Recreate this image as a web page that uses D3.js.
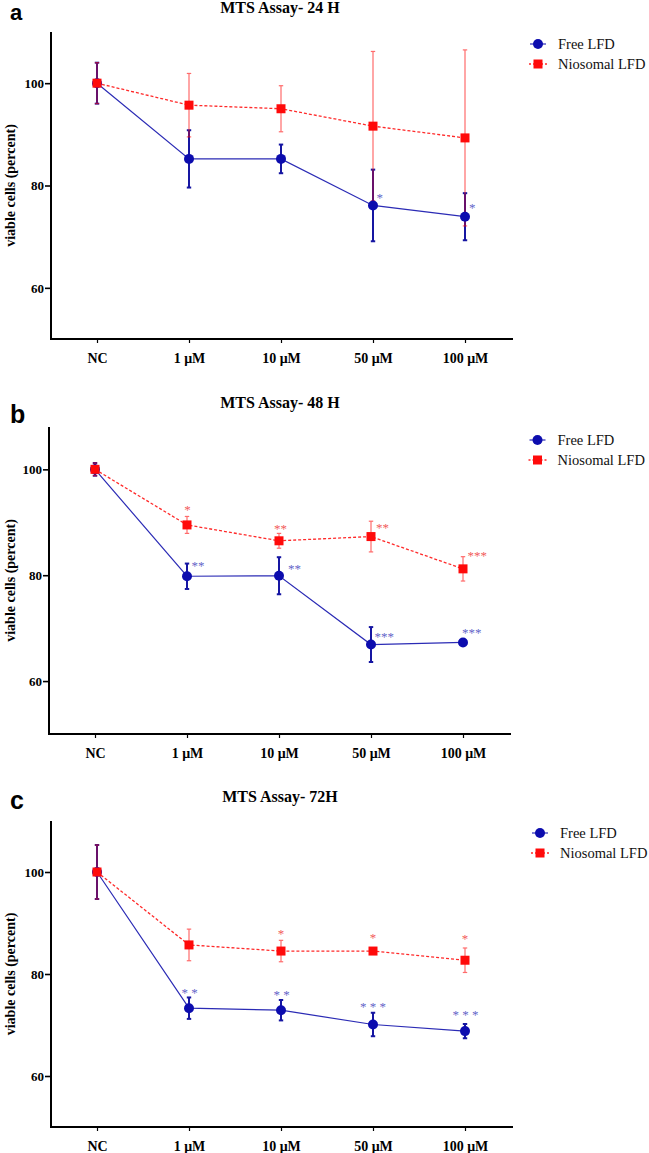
<!DOCTYPE html>
<html><head><meta charset="utf-8">
<script src="https://cdn.jsdelivr.net/npm/d3@7"></script>
<style>html,body{margin:0;padding:0;background:#fff}svg{display:block}</style>
</head><body>
<svg id="chart" width="649" height="1153"></svg>
<script>
// ---------- DATA ----------
const categories = ["NC", "1 μM", "10 μM", "50 μM", "100 μM"];
const yTicks = [60, 80, 100];
const seriesNames = ["Free LFD", "Niosomal LFD"];
const titles = ["MTS Assay- 24 H", "MTS Assay- 48 H", "MTS Assay- 72H"];
const panelLetters = ["a", "b", "c"];

const free24 = [100, 85.2, 85.2, 76.1, 73.9];
const free24Err = [4.0, 5.6, 2.8, 7.0, 4.6];
const nio24 = [100, 95.7, 95.0, 91.6, 89.3];
const nio24Err = [4.0, 6.2, 4.5, 14.6, 17.2];

const free48 = [100, 79.8, 79.9, 66.9, 67.3];
const free48Err = [1.2, 2.4, 3.5, 3.3, 0];
const nio48 = [100, 89.5, 86.5, 87.3, 81.2];
const nio48Err = [1.2, 1.6, 1.4, 2.9, 2.3];

const free72 = [100, 73.3, 72.9, 70.1, 68.8];
const free72Err = [5.3, 2.1, 2.0, 2.3, 1.4];
const nio72 = [100, 85.7, 84.5, 84.5, 82.7];
const nio72Err = [5.3, 3.1, 2.1, 0.5, 2.4];

const sigFree24 = ["", "", "", "*", "*"];
const sigNio24 = ["", "", "", "", ""];
const sigFree48 = ["", "**", "**", "***", "***"];
const sigNio48 = ["", "*", "**", "**", "***"];
const sigFree72 = ["", "* *", "* *", "* * *", "* * *"];
const sigNio72 = ["", "", "*", "*", "*"];

const yMaxes = [110, 108, 110];

// ---------- LAYOUT (positions / styles only) ----------
const layout = [
  {left: 51, top: 32, bottom: 339, titleY: 13, letterY: 20, legX: 538, legY: 44,
   // [anchor, dx, dy, ref]  ref: 'p' = point centre, 'e' = error-bar top; dy is asterisk centre offset
   sigF: [null, null, null, ["start", 3.5, -10, "p"], ["start", 4, -11.5, "p"]],
   sigN: [null, null, null, null, null]},
  {left: 49, top: 427, bottom: 734, titleY: 408, letterY: 423, legX: 537.5, legY: 440,
   sigF: [null, ["start", 4.5, 0, "e"], ["start", 9, 9, "e"], ["start", 3.5, 7, "e"], ["start", -1, -12, "p"]],
   sigN: [null, ["middle", 0.5, -9, "e"], ["middle", 1.5, -7, "e"], ["start", 5, 4, "e"], ["start", 4.5, -3, "e"]]},
  {left: 51, top: 821, bottom: 1127, titleY: 802, letterY: 809, legX: 540, legY: 833,
   sigF: [null, ["middle", 0.5, -7, "e"], ["middle", 0.5, -8, "e"], ["middle", 0, -8, "e"], ["middle", 0.5, -11, "e"]],
   sigN: [null, null, ["middle", 0, -9, "e"], ["middle", 0, -13, "e"], ["middle", 0, -11, "e"]]}
];

const panelData = [
  {free: free24, freeErr: free24Err, nio: nio24, nioErr: nio24Err, sF: sigFree24, sN: sigNio24},
  {free: free48, freeErr: free48Err, nio: nio48, nioErr: nio48Err, sF: sigFree48, sN: sigNio48},
  {free: free72, freeErr: free72Err, nio: nio72, nioErr: nio72Err, sF: sigFree72, sN: sigNio72}
];

const BLUE = "#0c0cae", BLUE_LINE = "#2b2bb5", BLUE_ERR = "#1616a2", BLUE_SIG = "#6464c8";
const RED = "#ff0a0a", RED_LINE = "#ff2a2a", RED_SIG = "#f25a5a";
const SERIF = "Liberation Serif, Tinos, Times New Roman, DejaVu Serif, serif";
const SANS = "Liberation Sans, Arimo, Arial, DejaVu Sans, sans-serif";

const svg = d3.select("#chart");

panelData.forEach((pd, i) => {
  const L = layout[i];
  const g = svg.append("g");
  const x = d3.scalePoint().domain(categories).range([L.left, L.left + 460]).padding(0.5);
  const y = d3.scaleLinear().domain([50, yMaxes[i]]).range([L.bottom, L.top]);

  // panel letter
  g.append("text").attr("x", 10).attr("y", L.letterY).text(panelLetters[i])
    .style("font-family", SANS).attr("font-weight", "bold").attr("font-size", i === 0 ? 22 : 25).attr("fill", "#000");
  // title
  g.append("text").attr("x", 280).attr("y", L.titleY).attr("text-anchor", "middle").text(titles[i])
    .style("font-family", SERIF).attr("font-weight", "bold").attr("font-size", 16).attr("fill", "#000");
  // y label
  const cy = (L.top + L.bottom) / 2;
  g.append("text").attr("transform", `translate(15,${cy}) rotate(-90)`).attr("text-anchor", "middle")
    .text("viable cells (percent)").style("font-family", SERIF).attr("font-weight", "bold")
    .attr("font-size", 14).attr("fill", "#000");

  // y axis
  const yAxis = d3.axisLeft(y).tickValues(yTicks).tickSize(6).tickPadding(1).tickFormat(d3.format("d"));
  const ya = g.append("g").attr("transform", `translate(${L.left},0)`).call(yAxis);
  ya.select(".domain").remove();
  ya.selectAll(".tick line").attr("stroke", "#000").attr("stroke-width", 1.6);
  ya.selectAll(".tick text").style("font-family", SERIF).attr("font-weight", "bold").attr("font-size", 13).attr("fill", "#000");
  g.append("line").attr("x1", L.left).attr("x2", L.left).attr("y1", L.top).attr("y2", L.bottom + 1)
    .attr("stroke", "#000").attr("stroke-width", 2);

  // x axis
  const xAxis = d3.axisBottom(x).tickSize(4).tickPadding(10);
  const xa = g.append("g").attr("transform", `translate(0,${L.bottom})`).call(xAxis);
  xa.select(".domain").remove();
  xa.selectAll(".tick line").attr("stroke", "#000").attr("stroke-width", 1.2);
  xa.selectAll(".tick text").style("font-family", SERIF).attr("font-weight", "bold").attr("font-size", 14).attr("fill", "#000");
  g.append("line").attr("x1", L.left - 1).attr("x2", L.left + 462).attr("y1", L.bottom).attr("y2", L.bottom)
    .attr("stroke", "#000").attr("stroke-width", 2);

  const fPts = categories.map((c, k) => ({c, v: pd.free[k], e: pd.freeErr[k], s: pd.sF[k], pos: L.sigF[k]}));
  const nPts = categories.map((c, k) => ({c, v: pd.nio[k], e: pd.nioErr[k], s: pd.sN[k], pos: L.sigN[k]}));

  const line = d3.line().x(d => x(d.c)).y(d => y(d.v));
  g.append("path").datum(fPts).attr("d", line).attr("fill", "none").attr("stroke", BLUE_LINE).attr("stroke-width", 1.2);
  g.append("path").datum(nPts).attr("d", line).attr("fill", "none").attr("stroke", RED_LINE).attr("stroke-width", 1.3)
    .attr("stroke-dasharray", "3,2");

  function errBars(pts, color, w, op) {
    const eg = g.append("g").attr("stroke", color).attr("stroke-width", w).attr("opacity", op);
    pts.filter(d => d.e > 0).forEach(d => {
      const cx = x(d.c), y1 = y(d.v + d.e), y2 = y(d.v - d.e);
      eg.append("line").attr("x1", cx).attr("x2", cx).attr("y1", y1).attr("y2", y2);
      eg.append("line").attr("x1", cx - 2.2).attr("x2", cx + 2.2).attr("y1", y1).attr("y2", y1);
      eg.append("line").attr("x1", cx - 2.2).attr("x2", cx + 2.2).attr("y1", y2).attr("y2", y2);
    });
  }
  errBars(fPts, BLUE_ERR, 2, 1);
  errBars(nPts, RED, 1.2, 0.6);

  g.selectAll(".fdot").data(fPts).enter().append("circle")
    .attr("cx", d => x(d.c)).attr("cy", d => y(d.v)).attr("r", 5).attr("fill", BLUE);
  g.selectAll(".ndot").data(nPts).enter().append("rect")
    .attr("x", d => x(d.c) - 4.5).attr("y", d => y(d.v) - 4.5).attr("width", 9).attr("height", 9).attr("fill", RED);

  function sig(pts, color) {
    pts.forEach(d => {
      if (!d.s || !d.pos) return;
      const [anchor, dx, dy, ref] = d.pos;
      const baseY = ref === "e" ? y(d.v + d.e) : y(d.v);
      g.append("text").attr("x", x(d.c) + dx).attr("y", baseY + dy + 6.5)
        .attr("text-anchor", anchor).text(d.s)
        .style("font-family", SERIF).attr("font-size", 13).attr("fill", color);
    });
  }
  sig(fPts, BLUE_SIG);
  sig(nPts, RED_SIG);

  // legend
  const lg = g.append("g");
  const lx = L.legX;
  lg.append("line").attr("x1", lx - 8).attr("x2", lx + 8).attr("y1", L.legY).attr("y2", L.legY)
    .attr("stroke", BLUE_LINE).attr("stroke-width", 1.2);
  lg.append("circle").attr("cx", lx).attr("cy", L.legY).attr("r", 5).attr("fill", BLUE);
  lg.append("text").attr("x", lx + 20).attr("y", L.legY + 5).text(seriesNames[0])
    .style("font-family", SERIF).attr("font-size", 14.5).attr("fill", "#111");
  const ly2 = L.legY + 20;
  lg.append("line").attr("x1", lx - 9).attr("x2", lx + 9).attr("y1", ly2).attr("y2", ly2)
    .attr("stroke", RED_LINE).attr("stroke-width", 1.3).attr("stroke-dasharray", "2,2");
  lg.append("rect").attr("x", lx - 4.5).attr("y", ly2 - 4.5).attr("width", 9).attr("height", 9).attr("fill", RED);
  lg.append("text").attr("x", lx + 20).attr("y", ly2 + 5).text(seriesNames[1])
    .style("font-family", SERIF).attr("font-size", 14.5).attr("fill", "#111");
});
</script>
</body></html>
